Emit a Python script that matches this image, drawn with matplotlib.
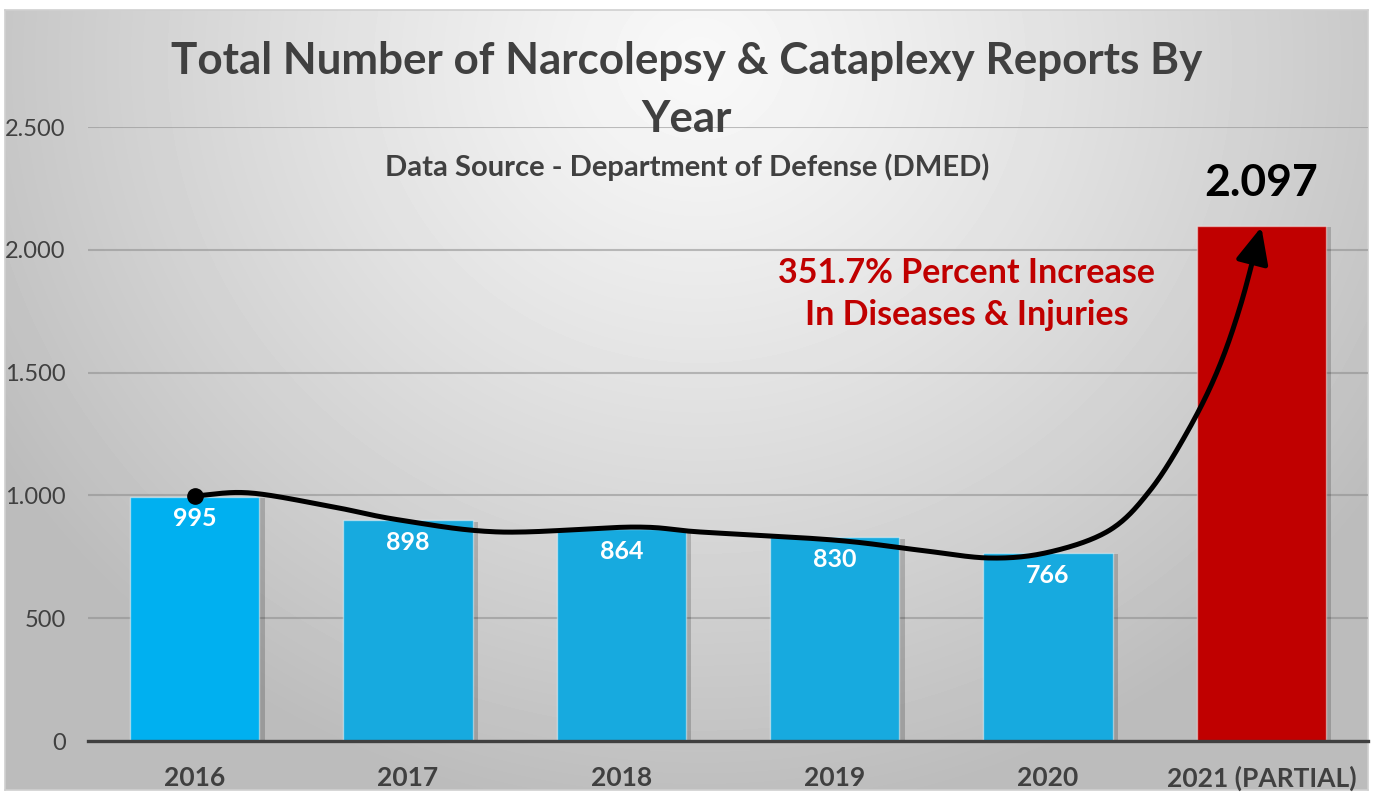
import numpy as np
import matplotlib
matplotlib.use("Agg")
import matplotlib.pyplot as plt
import matplotlib.patheffects as pe
from matplotlib.ticker import FuncFormatter

# データ
years = ["2016", "2017", "2018", "2019", "2020", "2021 (PARTIAL)"]
reports = [995, 898, 864, 830, 766, 2097]
bar_colors = ["#00B0F0", "#17AADF", "#17AADF", "#17AADF", "#17AADF", "#C00000"]
y_ticks = [0, 500, 1000, 1500, 2000, 2500]

title_line1 = "Total Number of Narcolepsy & Cataplexy Reports By"
title_line2 = "Year"
subtitle = "Data Source - Department of Defense (DMED)"
increase_text = "351.7% Percent Increase\nIn Diseases & Injuries"

# 手書き風の矢印の通過点 (データ座標)
arrow_x = [0.0, 0.26, 0.65, 0.96, 1.43, 2.06, 2.37, 3.0, 3.39, 3.73, 4.01, 4.29, 4.48, 4.65, 4.79, 4.90, 5.0]
arrow_y = [998, 1010, 953, 900, 851, 871, 851, 818, 778, 745, 770, 859, 1022, 1254, 1498, 1767, 2093]

plt.rcParams["font.family"] = ["Lato", "DejaVu Sans"]

W, H = 1374, 793
fig = plt.figure(figsize=(W / 100, H / 100), dpi=100)
fig.patch.set_facecolor("white")

# 背景のグラデーション
bx0, by0, bx1, by1 = 5, 10, 1368, 790
bg = fig.add_axes([bx0 / W, 1 - by1 / H, (bx1 - bx0) / W, (by1 - by0) / H], zorder=0)
gx, gy = np.meshgrid(np.linspace(bx0, bx1, 400), np.linspace(by0, by1, 240))
r = np.sqrt(((gx - 700) / 820) ** 2 + ((gy - 60) / 760) ** 2)
shade = 248 - 60 * np.clip(r, 0, 1) ** 1.2
bg.imshow(shade, cmap="gray", vmin=0, vmax=255, aspect="auto",
          extent=(0, 1, 0, 1), interpolation="bilinear")
bg.set_xticks([])
bg.set_yticks([])
for s in bg.spines.values():
    s.set_color("#D0D0D0")
    s.set_linewidth(1.2)

ax = fig.add_axes([88 / W, 1 - 741 / H, 1280 / W, 614 / H], zorder=1)
ax.patch.set_alpha(0)

x = np.arange(len(years))
bars = ax.bar(x, reports, width=0.605, color=bar_colors, zorder=3,
              edgecolor=(1, 1, 1, 0.45), linewidth=1.0)
for b in bars:
    b.set_path_effects([pe.SimplePatchShadow(offset=(4, -1), shadow_rgbFace="black", alpha=0.18),
                        pe.Normal()])

ax.set_xlim(-0.5, len(years) - 0.5)
ax.set_ylim(0, 2500)
ax.set_yticks(y_ticks)
ax.yaxis.set_major_formatter(FuncFormatter(lambda v, _: f"{int(v):,}".replace(",", ".")))
ax.grid(axis="y", color="#8C8C8C", alpha=0.55, linewidth=1.5, zorder=1)
ax.set_axisbelow(True)
for side in ["top", "right", "left"]:
    ax.spines[side].set_visible(False)
ax.spines["bottom"].set_color("#404040")
ax.spines["bottom"].set_linewidth(2.4)
ax.spines["bottom"].set_zorder(4)

ax.set_xticks(x)
ax.set_xticklabels(years, fontsize=19, fontweight="bold", color="#404040")
ax.tick_params(axis="x", length=0, pad=18)
ax.tick_params(axis="y", length=0, pad=16, labelsize=17, labelcolor="#404040")

# 棒のラベル
for xi, v in zip(x[:-1], reports[:-1]):
    ax.annotate(f"{v}", (xi, v), xytext=(0, -16), textcoords="offset points",
                ha="center", va="center", color="white", fontsize=18,
                fontweight="bold", zorder=6)
ax.annotate(f"{reports[-1]:,}".replace(",", "."), (x[-1], reports[-1]), xytext=(0, 31),
            textcoords="offset points", ha="center", va="center", color="black",
            fontsize=32, fontweight="bold", zorder=6)

# 曲線の矢印 (Catmull-Rom)
P = np.column_stack([arrow_x, arrow_y]).astype(float)
P = np.vstack([2 * P[0] - P[1], P, 2 * P[-1] - P[-2]])
curve = []
for i in range(1, len(P) - 2):
    p0, p1, p2, p3 = P[i - 1], P[i], P[i + 1], P[i + 2]
    for t in np.linspace(0, 1, 30, endpoint=False):
        t2, t3 = t * t, t * t * t
        pt = 0.5 * ((2 * p1) + (-p0 + p2) * t + (2 * p0 - 5 * p1 + 4 * p2 - p3) * t2
                    + (-p0 + 3 * p1 - 3 * p2 + p3) * t3)
        curve.append(pt)
curve.append(P[-2])
curve = np.array(curve)
cut = len(curve) - 12
ax.plot(curve[:cut + 1, 0], curve[:cut + 1, 1], color="black", lw=3.6,
        solid_capstyle="round", zorder=7, clip_on=False)
ax.annotate("", xy=curve[-1], xytext=curve[cut],
            arrowprops=dict(arrowstyle="-|>,head_length=1.1,head_width=0.5",
                            mutation_scale=20, lw=3.6, color="black",
                            shrinkA=0, shrinkB=0),
            zorder=7)
ax.plot([arrow_x[0]], [arrow_y[0]], "o", color="black", markersize=11, zorder=8)

# テキスト
ax.text(3.62, 1820, increase_text, ha="center", va="center", color="#C00000",
        fontsize=24.5, fontweight="bold", linespacing=1.42, zorder=6)
fig.text(687 / W, 1 - 61 / H, title_line1, ha="center", va="center",
         fontsize=31.7, fontweight="bold", color="#404040", zorder=5)
fig.text(687 / W, 1 - 119 / H, title_line2, ha="center", va="center",
         fontsize=31.7, fontweight="bold", color="#404040", zorder=5)
fig.text(687 / W, 1 - 167 / H, subtitle, ha="center", va="center",
         fontsize=21, fontweight="bold", color="#404040", zorder=5)

plt.savefig("out.png", dpi=100)
